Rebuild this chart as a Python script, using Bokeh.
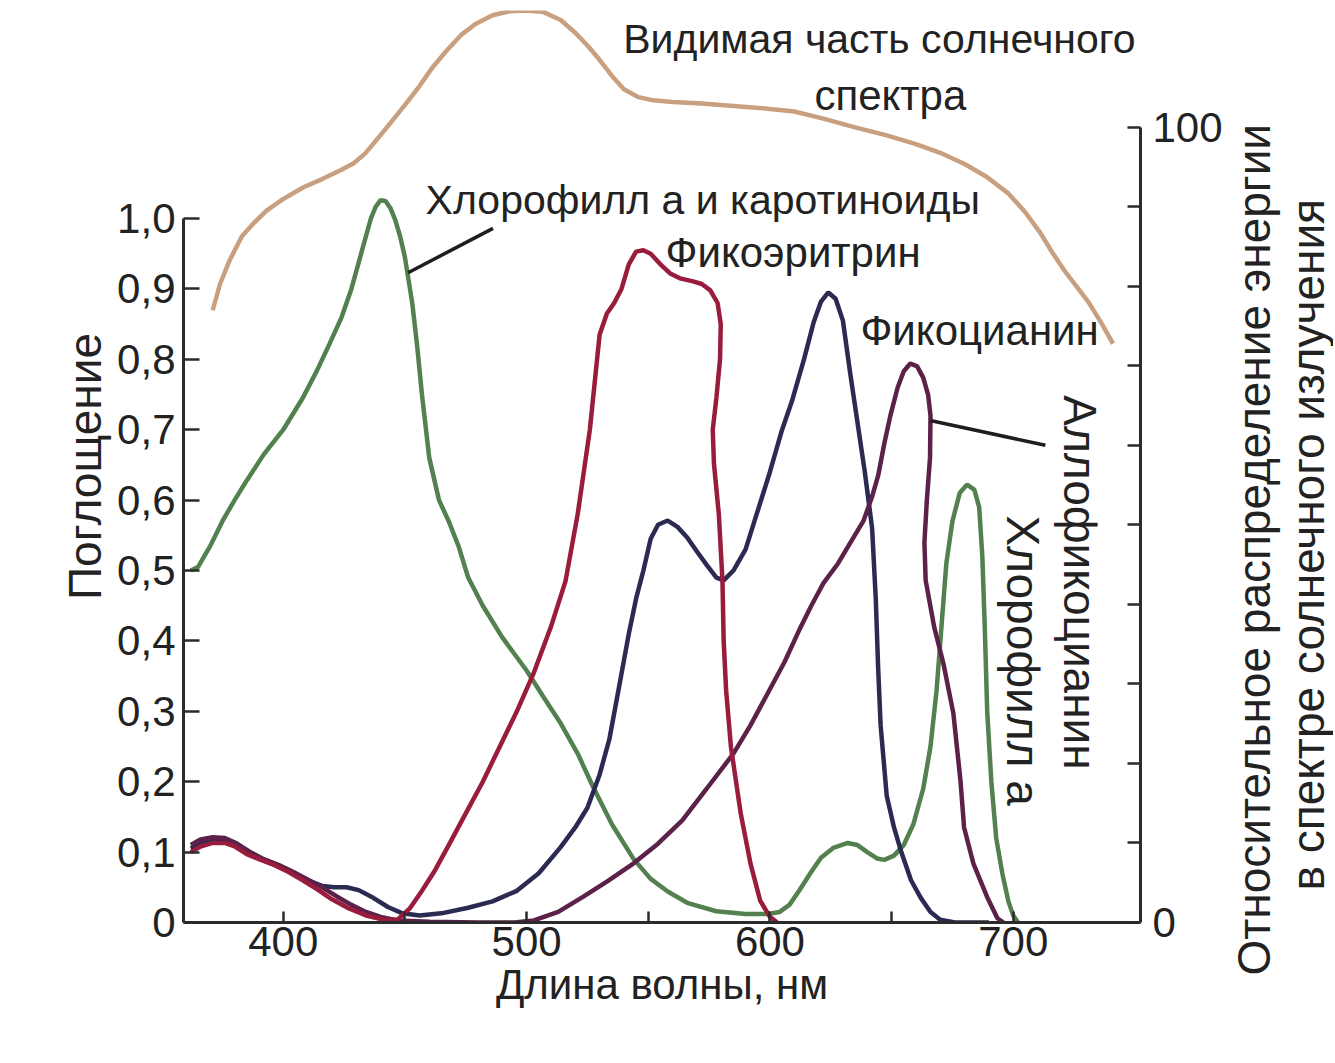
import math
from bokeh.plotting import figure
from bokeh.layouts import row
from bokeh.models import LinearAxis, Range1d, FixedTicker, Label, Title, CustomJSTickFormatter
from bokeh.embed import file_html
from bokeh.resources import INLINE

# ---------------- data ----------------
# Chlorophyll a + carotenoids (green)
chl_x = [362, 365, 370, 375, 380, 385, 392, 400, 408, 414, 419, 424, 428, 432, 436, 438, 440, 442, 444, 446,
         448, 450, 453, 455, 457, 460, 464, 468, 472, 476, 482, 490, 500, 507, 514, 521, 527, 535, 544, 551,
         558, 566, 578, 590, 599, 604, 608, 612, 617, 621, 626, 632, 636, 640, 644, 647, 651, 655, 659, 663,
         666, 668.5, 670.5, 672.5, 675, 678, 681, 684, 686, 687.3, 688.3, 689.3, 691, 693, 695.5, 698, 700, 702]
chl_y = [0.500, 0.505, 0.535, 0.570, 0.600, 0.628, 0.665, 0.700, 0.745, 0.785, 0.822, 0.860, 0.900, 0.950, 1.000,
         1.017, 1.026, 1.025, 1.015, 0.998, 0.975, 0.945, 0.880, 0.820, 0.750, 0.660, 0.600, 0.570, 0.535, 0.490,
         0.450, 0.405, 0.358, 0.320, 0.283, 0.240, 0.195, 0.140, 0.090, 0.062, 0.044, 0.028, 0.016, 0.012, 0.012,
         0.015, 0.025, 0.045, 0.072, 0.092, 0.106, 0.113, 0.110, 0.100, 0.091, 0.089, 0.095, 0.110, 0.140, 0.190,
         0.250, 0.330, 0.420, 0.510, 0.570, 0.610, 0.622, 0.615, 0.590, 0.520, 0.420, 0.300, 0.200, 0.120, 0.070,
         0.030, 0.010, 0.0]

# Phycoerythrin (red)
pe_x = [362, 366, 371, 376, 380, 385, 390, 396, 402, 408, 414, 420, 427, 434, 441, 447, 452, 457, 462, 468,
        475, 482, 489, 496, 503, 510, 516, 521, 526, 530, 533, 536, 539, 542, 545, 548, 551, 555, 559, 563,
        568, 572, 575.5, 578.5, 579.8, 579.5, 578, 576.5, 577, 579, 580.5, 581, 582, 584, 588, 592, 596, 600, 603]
pe_y = [0.100, 0.108, 0.113, 0.113, 0.108, 0.097, 0.090, 0.082, 0.072, 0.060, 0.047, 0.033, 0.020, 0.010, 0.004,
        0.004, 0.020, 0.045, 0.072, 0.110, 0.155, 0.200, 0.250, 0.300, 0.355, 0.420, 0.485, 0.580, 0.700, 0.835,
        0.865, 0.880, 0.900, 0.935, 0.953, 0.955, 0.950, 0.935, 0.922, 0.915, 0.911, 0.907, 0.898, 0.880, 0.850,
        0.800, 0.745, 0.700, 0.652, 0.580, 0.486, 0.400, 0.330, 0.249, 0.155, 0.084, 0.031, 0.008, 0.0]

# Phycocyanin (navy)
pc_x = [362, 366, 371, 376, 381, 386, 392, 398, 404, 410, 416, 421, 426, 431, 437, 443, 449, 456, 465, 476,
        486, 496, 505, 514, 520, 525, 530, 534, 538.5, 542, 545, 548, 551, 554, 558, 562, 566, 570, 574, 578,
        581, 585, 590, 595, 600, 605, 609, 614, 618, 621, 624, 627, 630, 633, 636, 639, 642, 643.5, 644.5, 645.5,
        648, 651, 654, 658, 662, 666, 670, 676, 690]
pc_y = [0.105, 0.112, 0.117, 0.116, 0.108, 0.098, 0.088, 0.080, 0.070, 0.060, 0.052, 0.050, 0.050, 0.046, 0.035,
        0.022, 0.013, 0.010, 0.013, 0.021, 0.030, 0.045, 0.070, 0.107, 0.135, 0.163, 0.210, 0.260, 0.344, 0.410,
        0.460, 0.500, 0.545, 0.565, 0.571, 0.562, 0.547, 0.527, 0.508, 0.490, 0.486, 0.500, 0.530, 0.585, 0.640,
        0.700, 0.740, 0.800, 0.853, 0.882, 0.895, 0.886, 0.855, 0.780, 0.710, 0.640, 0.560, 0.460, 0.360, 0.280,
        0.180, 0.135, 0.100, 0.060, 0.035, 0.015, 0.004, 0.0, 0.0]

# Allophycocyanin (purple)
apc_x = [362, 366, 371, 376, 381, 386, 392, 398, 404, 410, 416, 422, 428, 434, 440, 447, 460, 480, 495, 503,
         513, 523, 533, 544, 554, 564, 574, 585, 592, 599, 606, 612, 617, 622, 628, 634, 638.5, 642, 644.5, 647,
         649.5, 652.5, 655, 657.7, 660.5, 663, 665, 666, 665.8, 664.5, 663.5, 664, 667.5, 671.3, 675.4, 678.3,
         679.8, 683.6, 689.3, 693.5, 696]
apc_y = [0.110, 0.118, 0.121, 0.120, 0.112, 0.101, 0.090, 0.082, 0.072, 0.061, 0.050, 0.037, 0.025, 0.015, 0.008,
         0.003, 0.001, 0.0, 0.0, 0.003, 0.015, 0.036, 0.058, 0.084, 0.112, 0.145, 0.190, 0.240, 0.280, 0.325,
         0.370, 0.415, 0.450, 0.482, 0.510, 0.545, 0.571, 0.605, 0.635, 0.680, 0.720, 0.760, 0.783, 0.794, 0.790,
         0.774, 0.750, 0.720, 0.660, 0.600, 0.540, 0.486, 0.420, 0.368, 0.297, 0.202, 0.135, 0.084, 0.036, 0.006, 0.0]

# Visible solar spectrum, relative energy (right axis, 0-100)
sun_x = [371, 374, 378, 383, 388, 393, 400, 408.5, 416, 423.5, 429, 433.6, 438, 441, 446, 451, 456, 461, 467, 473,
         479, 486, 493, 500, 507, 514, 520, 525, 530, 535, 540, 546, 552, 560, 572, 585, 597, 610, 622, 635,
         648, 660, 670, 680, 689, 698, 705, 711, 716, 721, 726, 731, 736, 741]
sun_y = [77.0, 80.3, 83.3, 86.3, 88.0, 89.5, 91.0, 92.5, 93.5, 94.6, 95.5, 96.7, 98.3, 99.4, 101.3, 103.2, 105.2,
         107.4, 109.6, 111.6, 113.0, 114.1, 114.6, 114.7, 114.5, 113.5, 111.9, 110.3, 108.5, 106.5, 104.8, 103.8,
         103.4, 103.2, 103.0, 102.7, 102.4, 102.0, 101.1, 100.0, 99.0, 97.9, 96.8, 95.4, 93.8, 91.7, 89.3, 86.8,
         84.3, 82.0, 80.0, 78.0, 75.5, 72.8]

# leader lines for labels
lead1_x = [451.3, 486.2]
lead1_y = [0.923, 0.986]
lead2_x = [665.9, 713.2]
lead2_y = [0.713, 0.678]

x_ticks = [400, 500, 600, 700]
x_minor = [450, 550, 650]
y_ticks = [0, 0.1, 0.2, 0.3, 0.4, 0.5, 0.6, 0.7, 0.8, 0.9, 1.0]
r_ticks = [0, 100]
r_minor = [10, 20, 30, 40, 50, 60, 70, 80, 90]

# ---------------- styling ----------------
FONT = "Liberation Sans"
TXT = "#222222"
AX = "#2b2b2b"

p = figure(width=1225, height=1032, x_range=Range1d(359, 752.3), y_range=Range1d(0, 1.2955),
           output_backend="svg", toolbar_location=None, x_axis_location=None, y_axis_location=None,
           min_border_left=183, min_border_right=85, min_border_top=10, min_border_bottom=110)
p.outline_line_color = None
p.grid.visible = False
p.background_fill_color = "white"
p.border_fill_color = "white"
p.extra_y_ranges = {"solar": Range1d(0, 114.7)}


def style_axis(ax, tick_len):
    ax.axis_line_width = 3
    ax.axis_line_color = AX
    ax.major_tick_line_width = 2.5
    ax.major_tick_line_color = AX
    ax.minor_tick_line_width = 2.5
    ax.minor_tick_line_color = AX
    ax.major_tick_in = tick_len
    ax.major_tick_out = 0
    ax.minor_tick_in = tick_len
    ax.minor_tick_out = 0
    ax.major_label_text_font = FONT
    ax.major_label_text_font_size = "42px"
    ax.major_label_text_color = TXT
    ax.axis_label_text_font = FONT
    ax.axis_label_text_font_style = "normal"
    ax.axis_label_text_color = TXT


xaxis = LinearAxis(ticker=FixedTicker(ticks=x_ticks, minor_ticks=x_minor), bounds=(359, 752.3),
                   axis_label="Длина волны, нм")
style_axis(xaxis, 11)
xaxis.major_label_standoff = 4
xaxis.axis_label_standoff = 2
xaxis.axis_label_text_font_size = "42px"
p.add_layout(xaxis, "below")

yaxis = LinearAxis(ticker=FixedTicker(ticks=y_ticks, minor_ticks=[]), bounds=(0, 1),
                   axis_label="Поглощение",
                   formatter=CustomJSTickFormatter(
                       code="return Math.abs(tick) < 1e-9 ? '0' : tick.toFixed(1).replace('.', ',');"))
style_axis(yaxis, 16)
yaxis.major_label_standoff = 8
yaxis.axis_label_standoff = 3
yaxis.axis_label_text_font_size = "46px"
p.add_layout(yaxis, "left")

# right axis: relative solar energy
raxis = LinearAxis(y_range_name="solar", ticker=FixedTicker(ticks=r_ticks, minor_ticks=r_minor), bounds=(0, 100),
                   formatter=CustomJSTickFormatter(code="return tick > 50 ? '100' : '0';"))
style_axis(raxis, 13)
raxis.major_label_standoff = 12
p.add_layout(raxis, "right")

# ---------------- curves ----------------
LW = 4.5
p.line(sun_x, sun_y, y_range_name="solar", line_color="#c9a07f", line_width=LW)
p.line(chl_x, chl_y, line_color="#53804f", line_width=LW)
p.line(pc_x, pc_y, line_color="#2a2a52", line_width=LW)
p.line(apc_x, apc_y, line_color="#5c2148", line_width=LW)
p.line(pe_x, pe_y, line_color="#9a1c3c", line_width=LW)
p.line(lead1_x, lead1_y, line_color="#1e1e1e", line_width=3.5)
p.line(lead2_x, lead2_y, line_color="#1e1e1e", line_width=3.5)


def lab(fig, x, y, text, size="42px", align="left", angle=0.0):
    fig.add_layout(Label(x=x, y=y, text=text, text_font=FONT, text_font_size=size, text_color=TXT,
                         text_align=align, text_baseline="middle", angle=angle))


lab(p, 645.0, 1.2557, "Видимая часть солнечного", size="41px", align="center")
lab(p, 649.5, 1.1747, "спектра", align="center")
lab(p, 458.5, 1.027, "Хлорофилл а и каротиноиды", size="41px")
lab(p, 557.1, 0.9517, "Фикоэритрин")
lab(p, 637.2, 0.8409, "Фикоцианин")
lab(p, 727.6, 0.483, "Аллофикоцианин", size="46px", align="center", angle=-math.pi / 2)
lab(p, 704.2, 0.372, "Хлорофилл а", size="46px", align="center", angle=-math.pi / 2)

# ---------------- side panel: right-axis title, two lines reading upward ----------------
s = figure(width=108, height=1032, x_range=Range1d(0, 1), y_range=Range1d(0, 1.2955),
           output_backend="svg", toolbar_location=None, x_axis_location=None, y_axis_location=None,
           min_border_left=0, min_border_right=0, min_border_top=10, min_border_bottom=110)
s.outline_line_color = None
s.grid.visible = False
s.background_fill_color = "white"
s.border_fill_color = "white"
for txt, off in (("в спектре солнечного излучения", 32), ("Относительное распределение энергии", -53)):
    s.add_layout(Title(text=txt, align="left", offset=off, standoff=0, text_font=FONT,
                       text_font_size="46px", text_font_style="normal", text_color=TXT), "left")

layout = row(p, s, spacing=0)
open("out.html", "w").write(file_html(layout, INLINE))
